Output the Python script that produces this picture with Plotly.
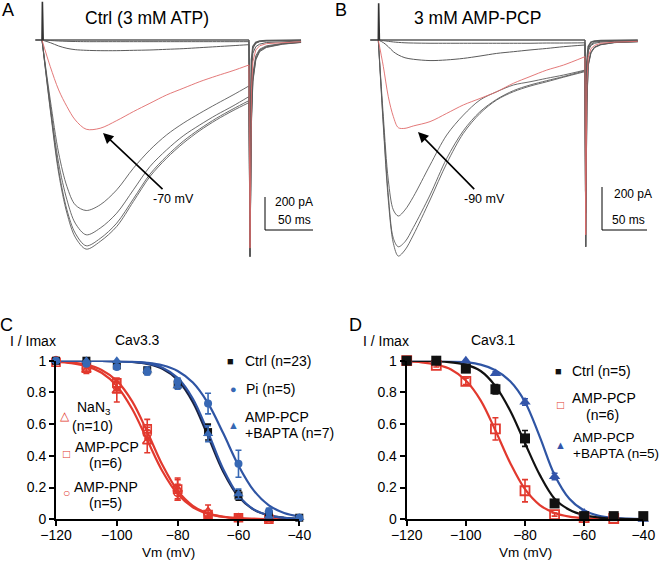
import plotly.graph_objects as go

W, H = 659, 562
FONT = "Arial, Liberation Sans, Helvetica, sans-serif"
RED = "#e2392e"
BLUE_L = "#2f55a4"
BLUE_M = "#3768b4"
BLACK = "#111111"
GREY = "#5a5a5a"
RED_TR = "#e06a6a"

# ---------------- Panel A: current traces (Ctrl, 3 mM ATP) ----------------
A_T = [0, 8.6, 17.3, 25.9, 34.5, 45.9, 60.4, 77.6, 94.9, 112.1, 129.4, 146.6, 163.9, 181.1, 198.4, 214.9]
A_BIG3 = [0, -420, -800, -1040, -1184, -1256, -1210, -1120, -970, -820, -710, -620, -544, -480, -424, -376]
A_BIG2 = [0, -410, -780, -1020, -1160, -1236, -1192, -1100, -954, -806, -698, -608, -534, -470, -414, -364]
A_BIG1 = [0, -390, -740, -960, -1100, -1170, -1130, -1040, -900, -760, -660, -576, -510, -450, -396, -340]
A_MID = [0, -360, -680, -880, -990, -1024, -990, -900, -770, -660, -570, -500, -440, -384, -330, -276]
A_RED = [0, -160, -300, -400, -480, -536, -530, -484, -430, -380, -330, -290, -250, -216, -184, -150]
A_SMALL = [0, -16, -36, -50, -58, -62, -64, -64, -62, -60, -56, -52, -46, -40, -34, -28]
A_TINY = [0, -3, -6, -8, -9, -10, -10, -10, -10, -10, -10, -10, -10, -10, -10, -10]
A_FLAT = [0, 0, 0, 0, 0, 0, 0, 0, 0, 0, 0, 0, 0, 0, 0, 0]
A_TAIL_T = [214.9, 216.0, 217.5, 219, 222, 226, 233, 250, 269]
A_TAIL_BIG3 = [-376, -1300, -500, -250, -120, -70, -45, -25, -15]
A_TAIL_BIG2 = [-364, -1300, -480, -240, -115, -65, -42, -24, -14]
A_TAIL_BIG1 = [-340, -1300, -450, -220, -105, -60, -40, -22, -13]
A_TAIL_MID = [-276, -1300, -400, -200, -95, -55, -35, -20, -12]
A_TAIL_RED = [-150, -1250, -300, -130, -60, -35, -22, -15, -10]
A_TAIL_SMALL = [-28, -1100, -200, -80, -40, -25, -15, -10, -6]
A_TAIL_TINY = [-10, -900, -150, -50, -20, -10, -6, -3, -2]
A_TAIL_FLAT = [0, -800, -120, -40, -15, -6, -3, -1, 0]
A_PRE_T = [-7, 0, 0.4, 1.2]
A_PRE_I = [0, 0, 230, 0]

# ---------------- Panel B: current traces (3 mM AMP-PCP) ----------------
B_T = [0, 5.6, 11.1, 16.7, 22.2, 29.6, 38.9, 57.4, 75.9, 94.4, 112.9, 131.4, 149.9, 168.4, 186.9, 205.4, 229.4]
B_BIG2 = [0, -400, -739, -939, -998, -970, -901, -739, -570, -431, -339, -277, -239, -213, -193, -172, -146]
B_BIG1 = [0, -385, -716, -916, -955, -932, -866, -716, -547, -419, -331, -274, -234, -208, -188, -169, -142]
B_MID = [0, -354, -647, -785, -813, -785, -724, -578, -439, -347, -277, -239, -208, -193, -177, -162, -139]
B_RED = [0, -123, -262, -354, -405, -408, -397, -377, -339, -300, -270, -239, -200, -169, -139, -116, -77]
B_SMALL = [0, -12, -31, -54, -69, -82, -89, -95, -92, -85, -74, -62, -54, -46, -39, -31, -23]
B_TINY = [0, -3, -6, -9, -11, -13, -14, -15, -15, -15, -15, -15, -15, -15, -14, -14, -13]
B_FLAT = [0, 0, 0, 0, 0, 0, 0, 0, 0, 0, 0, 0, 0, 0, 0, 0, 0]
B_TAIL_T = [229.4, 230.2, 231.5, 233, 236, 240, 247, 262, 288]
B_TAIL_BIG2 = [-146, -955, -300, -120, -60, -35, -22, -12, -8]
B_TAIL_BIG1 = [-142, -955, -290, -115, -58, -34, -21, -12, -8]
B_TAIL_MID = [-139, -955, -280, -110, -55, -32, -20, -11, -7]
B_TAIL_RED = [-77, -900, -200, -80, -40, -25, -15, -10, -6]
B_TAIL_SMALL = [-23, -800, -150, -50, -25, -15, -10, -6, -4]
B_TAIL_TINY = [-13, -750, -120, -40, -20, -10, -6, -4, -2]
B_TAIL_FLAT = [0, -700, -100, -30, -10, -5, -2, 0, 0]
B_PRE_T = [-9, 0, 0.4, 1.2]
B_PRE_I = [0, 0, 170, 0]

# ---------------- Panel C: Cav3.3 steady-state inactivation ----------------
V_PTS = [-120, -110, -100, -90, -80, -70, -60, -50, -40]
V_RED = [-120, -110, -100, -90, -80, -70, -60, -50]
C_CTRL = [1.0, 1.0, 0.97, 0.94, 0.85, 0.55, 0.15, 0.03, 0.01]
C_CTRL_ERR = [0, 0, 0.01, 0.02, 0.02, 0.05, 0.03, 0.01, 0]
C_PI = [1.0, 0.98, 0.96, 0.93, 0.87, 0.73, 0.35, 0.05, 0.01]
C_PI_ERR = [0, 0.01, 0.01, 0.02, 0.02, 0.065, 0.085, 0.02, 0]
C_BAPTA = [1.0, 1.0, 1.0, 0.94, 0.84, 0.54, 0.16, 0.02, 0.01]
C_BAPTA_ERR = [0, 0, 0, 0.02, 0.02, 0.05, 0.03, 0.01, 0]
C_NAN3 = [1.0, 0.94, 0.81, 0.49, 0.19, 0.05, 0.01, 0.0]
C_NAN3_ERR = [0, 0.02, 0.07, 0.07, 0.07, 0.04, 0.01, 0]
C_AMPPCP = [0.99, 0.96, 0.86, 0.57, 0.19, 0.03, 0.01, 0.0]
C_AMPPCP_ERR = [0, 0.01, 0.03, 0.06, 0.06, 0.01, 0.01, 0]
C_AMPPNP = [1.0, 0.95, 0.84, 0.54, 0.17, 0.03, 0.01, 0.0]
C_AMPPNP_ERR = [0, 0.02, 0.03, 0.04, 0.05, 0.01, 0.0, 0]

V_FIT = [-120, -115, -110, -105, -100, -95, -90, -85, -80, -75, -70, -65, -60, -55, -50, -45, -40]
C_FIT_PI = [1.0, 1.0, 0.9995, 0.999, 0.9975, 0.994, 0.987, 0.971, 0.935, 0.862, 0.731, 0.542, 0.339, 0.182, 0.088, 0.040, 0.018]
C_FIT_CTRL = [1.0, 1.0, 0.9995, 0.999, 0.997, 0.992, 0.980, 0.949, 0.879, 0.739, 0.523, 0.300, 0.143, 0.061, 0.025, 0.0097, 0.004]
C_FIT_BAPTA = [1.0, 1.0, 0.9995, 0.999, 0.997, 0.993, 0.983, 0.956, 0.892, 0.760, 0.548, 0.316, 0.151, 0.063, 0.025, 0.0098, 0.004]
C_FIT_NAN3 = [0.993, 0.985, 0.966, 0.924, 0.841, 0.697, 0.5, 0.303, 0.159, 0.076, 0.034, 0.015, 0.0067, 0.003, 0.001, 0.0, 0.0]
C_FIT_AMPPCP = [0.995, 0.989, 0.975, 0.942, 0.873, 0.745, 0.552, 0.342, 0.180, 0.085, 0.0376, 0.016, 0.007, 0.003, 0.001, 0.0, 0.0]

# ---------------- Panel D: Cav3.1 ----------------
D_CTRL = [1.0, 1.0, 0.95, 0.82, 0.51, 0.10, 0.02, 0.02, 0.02]
D_CTRL_ERR = [0, 0, 0.02, 0.03, 0.05, 0.02, 0.01, 0.01, 0.01]
D_AMPPCP = [1.0, 0.97, 0.87, 0.57, 0.18, 0.03, 0.01, 0.005]
D_AMPPCP_ERR = [0, 0.01, 0.02, 0.07, 0.07, 0.01, 0, 0]
D_BAPTA = [1.0, 1.0, 1.0, 0.92, 0.74, 0.27, 0.04, 0.01, 0.0]
D_BAPTA_ERR = [0, 0, 0, 0.01, 0.02, 0.02, 0.01, 0, 0]
D_FIT_CTRL = [1.0, 0.999, 0.997, 0.99, 0.975, 0.935, 0.84, 0.685, 0.48, 0.28, 0.13, 0.06, 0.026, 0.011, 0.005, 0.002, 0.001]
D_FIT_BAPTA = [1.0, 1.0, 0.999, 0.997, 0.99, 0.975, 0.94, 0.87, 0.74, 0.52, 0.28, 0.13, 0.055, 0.022, 0.009, 0.004, 0.001]
D_FIT_AMPPCP = [0.995, 0.99, 0.975, 0.945, 0.875, 0.75, 0.56, 0.355, 0.19, 0.09, 0.04, 0.017, 0.007, 0.003, 0.001, 0.0, 0.0]

TICKS_X = [-120, -100, -80, -60, -40]
TICKS_Y = [0, 0.2, 0.4, 0.6, 0.8, 1]
TICKTEXT_Y = ["0", "0.2", "0.4", "0.6", "0.8", "1"]


def fx(x):
    return x / W


def fy(y):
    return 1 - y / H


fig = go.Figure()

# ---------- layout geometry (pixel anchors) ----------
A_T0, A_PXMS, A_BASE, A_PXPA = 42.0, 0.963, 40.0, 33.3 / 200
B_T0, B_PXMS, B_BASE, B_PXPA = 378.3, 0.901, 40.0, 43.3 / 200
TOP_BOTTOM = 290.0
A_DOM = (0.0, 329.5)
B_DOM = (329.5, 659.0)

a_xr = [(A_DOM[0] - A_T0) / A_PXMS, (A_DOM[1] - A_T0) / A_PXMS]
a_yr = [(A_BASE - TOP_BOTTOM) / A_PXPA, A_BASE / A_PXPA]
b_xr = [(B_DOM[0] - B_T0) / B_PXMS, (B_DOM[1] - B_T0) / B_PXMS]
b_yr = [(B_BASE - TOP_BOTTOM) / B_PXPA, B_BASE / B_PXPA]


def add_trace_pair(t, i, tt, ti, color, xa, ya, width=1.0):
    fig.add_trace(go.Scatter(x=t, y=i, mode="lines", line=dict(color=color, width=width, shape="spline", smoothing=0.9),
                             xaxis=xa, yaxis=ya, showlegend=False, hoverinfo="skip"))
    fig.add_trace(go.Scatter(x=tt, y=ti, mode="lines", line=dict(color=color, width=width),
                             xaxis=xa, yaxis=ya, showlegend=False, hoverinfo="skip"))


for tr, tl, w in [(A_FLAT, A_TAIL_FLAT, 1.6), (A_TINY, A_TAIL_TINY, 1.0), (A_SMALL, A_TAIL_SMALL, 1.0),
                  (A_MID, A_TAIL_MID, 0.9), (A_BIG1, A_TAIL_BIG1, 0.9), (A_BIG2, A_TAIL_BIG2, 0.9),
                  (A_BIG3, A_TAIL_BIG3, 0.9)]:
    add_trace_pair(A_T, tr, A_TAIL_T, tl, GREY, "x", "y", w)
add_trace_pair(A_T, A_RED, A_TAIL_T, A_TAIL_RED, RED_TR, "x", "y", 0.9)
fig.add_trace(go.Scatter(x=A_PRE_T, y=A_PRE_I, mode="lines", line=dict(color="#333", width=1.6),
                         xaxis="x", yaxis="y", showlegend=False, hoverinfo="skip"))

for tr, tl, w in [(B_FLAT, B_TAIL_FLAT, 1.6), (B_TINY, B_TAIL_TINY, 1.0), (B_SMALL, B_TAIL_SMALL, 1.0),
                  (B_MID, B_TAIL_MID, 0.9), (B_BIG1, B_TAIL_BIG1, 0.9), (B_BIG2, B_TAIL_BIG2, 0.9)]:
    add_trace_pair(B_T, tr, B_TAIL_T, tl, GREY, "x2", "y2", w)
add_trace_pair(B_T, B_RED, B_TAIL_T, B_TAIL_RED, RED_TR, "x2", "y2", 0.9)
fig.add_trace(go.Scatter(x=B_PRE_T, y=B_PRE_I, mode="lines", line=dict(color="#333", width=1.6),
                         xaxis="x2", yaxis="y2", showlegend=False, hoverinfo="skip"))


# ---------- C and D ----------
def fit_line(y, color, xa, ya, width=2.2):
    fig.add_trace(go.Scatter(x=V_FIT, y=y, mode="lines", line=dict(color=color, width=width, shape="spline"),
                             xaxis=xa, yaxis=ya, showlegend=False, cliponaxis=False, hoverinfo="skip"))


def pts(x, y, err, color, symbol, size, xa, ya, lw=0):
    fig.add_trace(go.Scatter(x=x, y=y, mode="markers",
                             marker=dict(symbol=symbol, size=size, color=color,
                                         line=dict(color=color, width=lw)),
                             error_y=dict(type="data", array=err, visible=True, color=color,
                                          thickness=1.6, width=3),
                             xaxis=xa, yaxis=ya, showlegend=False, cliponaxis=False, hoverinfo="skip"))


fit_line(C_FIT_NAN3, RED, "x3", "y3")
fit_line(C_FIT_AMPPCP, RED, "x3", "y3")
fit_line(C_FIT_CTRL, "#1a2240", "x3", "y3")
fit_line(C_FIT_BAPTA, BLUE_L, "x3", "y3")
fit_line(C_FIT_PI, BLUE_L, "x3", "y3")
pts(V_RED, C_NAN3, C_NAN3_ERR, RED, "triangle-up-open", 8, "x3", "y3", 1.6)
pts(V_RED, C_AMPPCP, C_AMPPCP_ERR, RED, "square-open", 8, "x3", "y3", 1.6)
pts(V_RED, C_AMPPNP, C_AMPPNP_ERR, RED, "circle-open", 8, "x3", "y3", 1.6)
pts(V_PTS, C_CTRL, C_CTRL_ERR, BLACK, "square", 8, "x3", "y3")
pts(V_PTS, C_BAPTA, C_BAPTA_ERR, BLUE_M, "triangle-up", 9, "x3", "y3")
pts(V_PTS, C_PI, C_PI_ERR, BLUE_M, "circle", 8, "x3", "y3")

fit_line(D_FIT_AMPPCP, RED, "x4", "y4")
fit_line(D_FIT_BAPTA, BLUE_L, "x4", "y4")
fit_line(D_FIT_CTRL, BLACK, "x4", "y4")
pts(V_RED, D_AMPPCP, D_AMPPCP_ERR, RED, "square-open", 9, "x4", "y4", 1.8)
pts(V_PTS, D_BAPTA, D_BAPTA_ERR, "#3355aa", "triangle-up", 10, "x4", "y4")
pts(V_PTS, D_CTRL, D_CTRL_ERR, BLACK, "square", 10, "x4", "y4")

hidden = dict(visible=False, showgrid=False, zeroline=False, fixedrange=True, automargin=False)
common_x = dict(range=[-120, -40], tickvals=TICKS_X, showline=True, linecolor="black", linewidth=2,
                ticks="outside", ticklen=5, tickwidth=2, tickcolor="black", showgrid=False, zeroline=False,
                automargin=False, ticklabelstandoff=-3, tickfont=dict(family=FONT, size=14, color="black"))
common_y = dict(range=[0, 1], tickvals=TICKS_Y, ticktext=TICKTEXT_Y, showline=True, linecolor="black",
                linewidth=2, ticks="outside", ticklen=5, tickwidth=2, tickcolor="black", showgrid=False,
                zeroline=False, automargin=False, tickfont=dict(family=FONT, size=14, color="black"))

y_dom_cd = [fy(519.3), fy(360.7)]
fig.update_layout(
    template="none",
    width=W, height=H, margin=dict(l=0, r=0, t=0, b=0, pad=0, autoexpand=False),
    paper_bgcolor="white", plot_bgcolor="rgba(0,0,0,0)",
    showlegend=False,
    xaxis=dict(domain=[fx(A_DOM[0]), fx(A_DOM[1])], range=a_xr, **hidden),
    yaxis=dict(domain=[fy(TOP_BOTTOM), 1], range=a_yr, **hidden),
    xaxis2=dict(domain=[fx(B_DOM[0]), fx(B_DOM[1])], range=b_xr, **hidden),
    yaxis2=dict(domain=[fy(TOP_BOTTOM), 1], range=b_yr, **hidden),
    xaxis3=dict(domain=[fx(56), fx(299.3)], anchor="y3", **common_x),
    yaxis3=dict(domain=y_dom_cd, anchor="x3", **common_y),
    xaxis4=dict(domain=[fx(406.7), fx(643.3)], anchor="y4", **common_x),
    yaxis4=dict(domain=y_dom_cd, anchor="x4", **common_y),
)

ann = []


def text(x, y, s, size=14, color="black", xanchor="center", yanchor="middle"):
    ann.append(dict(x=fx(x), y=fy(y), xref="paper", yref="paper", text=s, showarrow=False,
                    font=dict(family=FONT, size=size, color=color), xanchor=xanchor, yanchor=yanchor))


def arrow_text(hx, hy, tx, ty, s, size):
    ann.append(dict(x=fx(hx), y=fy(hy), xref="paper", yref="paper", ax=tx - hx, ay=ty - hy,
                    text=s, showarrow=True, arrowhead=2, arrowsize=1.3, arrowwidth=1.6,
                    arrowcolor="black", standoff=0, startstandoff=2,
                    font=dict(family=FONT, size=size, color="black")))


# panel letters and titles
text(8, 10, "A", 18)
text(341, 10, "B", 18)
text(6, 325, "C", 18)
text(355, 325, "D", 18)
text(147, 18, "Ctrl (3 mM ATP)", 17.5)
text(477, 18, "3 mM AMP-PCP", 17.5)

# arrows with their voltage labels
arrow_text(103, 133, 173, 199, "-70 mV", 12.5)
arrow_text(418, 132, 484, 199, "-90 mV", 12.5)

# scale bars text
text(273, 202, "200 pA", 12, xanchor="left")
text(313, 220, "50 ms", 12, xanchor="right")
text(612, 194, "200 pA", 12, xanchor="left")
text(647, 220, "50 ms", 12, xanchor="right")

# C/D labels
text(33, 341, "I / Imax", 14)
text(137, 340, "Cav3.3", 14)
text(168, 552, "Vm (mV)", 13.5)
text(386, 341, "I / Imax", 14)
text(494, 340, "Cav3.1", 14)
text(525, 552, "Vm (mV)", 13.5)

# legends C (right)
text(230, 361, "■", 11, BLACK)
text(243, 361, "Ctrl (n=23)", 14, xanchor="left")
text(233, 389, "●", 11, BLUE_M)
text(244, 389, "Pi (n=5)", 14, xanchor="left")
text(233, 425, "▲", 11, BLUE_M)
text(243, 417, "AMP-PCP", 14, xanchor="left")
text(243, 433, "+BAPTA (n=7)", 14, xanchor="left")
# legends C (left, red)
text(65, 416, "△", 12, RED)
text(75, 408, "NaN<sub>3</sub>", 14, xanchor="left")
text(92, 426, "(n=10)", 14)
text(66, 454, "□", 12, RED)
text(107, 447, "AMP-PCP", 14)
text(105, 463, "(n=6)", 14)
text(66, 493, "○", 12, RED)
text(106, 487, "AMP-PNP", 14)
text(105, 503, "(n=5)", 14)
# legends D
text(558, 371, "■", 11, BLACK)
text(570, 371, "Ctrl (n=5)", 14, xanchor="left")
text(560, 405, "□", 12, RED)
text(604, 398, "AMP-PCP", 14)
text(602, 415, "(n=6)", 14)
text(560, 445, "▲", 11, "#3355aa")
text(571, 437, "AMP-PCP", 13.5, xanchor="left")
text(571, 453, "+BAPTA (n=5)", 13.5, xanchor="left")

fig.update_layout(annotations=ann)

shapes = []
for (x0, y0, x1, y1) in [(265, 197, 265, 230), (265, 230, 313, 230), (602, 187, 602, 230), (602, 230, 647, 230)]:
    shapes.append(dict(type="line", xref="paper", yref="paper", x0=fx(x0), y0=fy(y0), x1=fx(x1), y1=fy(y1),
                       line=dict(color="black", width=1)))
fig.update_layout(shapes=shapes)

fig.write_html("out.html", config={"displayModeBar": False, "staticPlot": True},
               post_script="document.body.style.margin='0px';document.body.style.overflow='hidden';")
